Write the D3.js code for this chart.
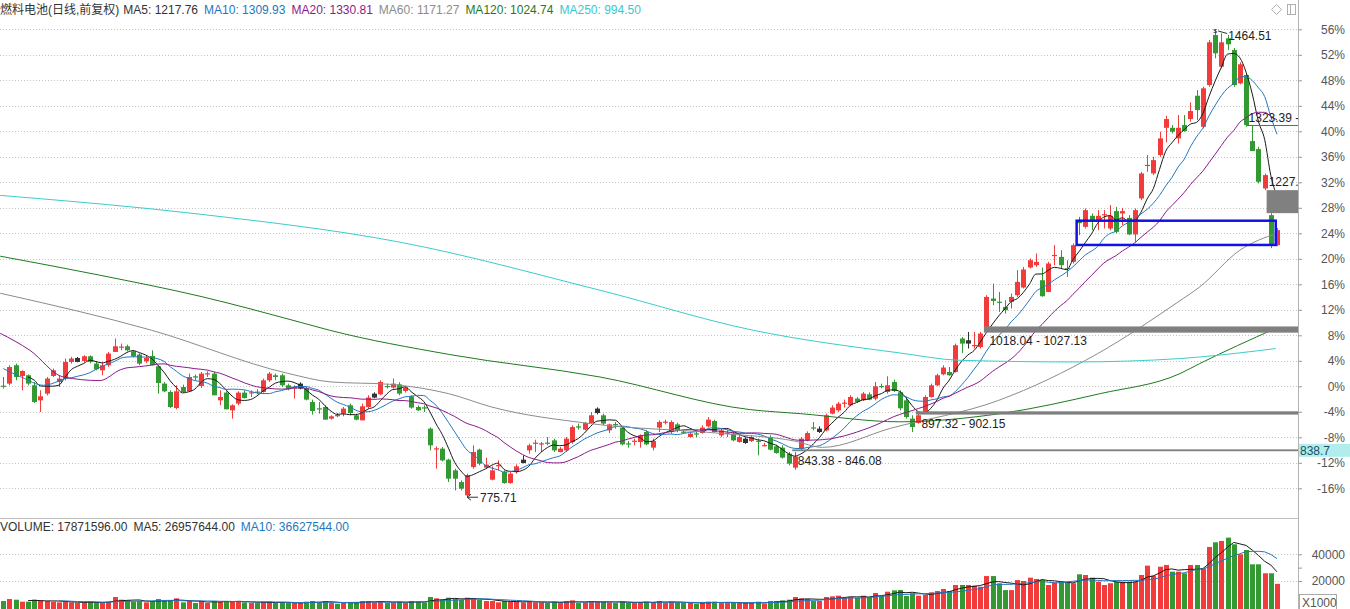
<!DOCTYPE html>
<html><head><meta charset="utf-8">
<script src="https://cdn.jsdelivr.net/npm/d3@7/dist/d3.min.js"></script>
<style>
html,body{margin:0;padding:0;background:#fff;}
svg{display:block;}
text{font-family:"Liberation Sans",Arial,"Noto Sans CJK SC",sans-serif;font-size:12px;}
</style></head><body>
<svg id="chart" width="1350" height="609"></svg>
<script>
// ---------------- DATA (values in % relative to axis base) ----------------
const opens = [0.1,0.42,3.30,1.62,1.73,0.16,-2.20,-1.15,1.62,0.68,
1.21,3.82,4.44,3.97,4.71,3.56,2.51,3.30,5.39,6.08,
6.28,5.50,4.98,3.93,4.76,3.14,0.42,-0.89,-3.41,-0.11,
-0.79,1.57,0.05,1.88,1.99,-2.20,-0.99,-3.77,-2.72,-0.99,
-1.10,-0.83,-0.89,0.94,1.73,1.73,0.16,-0.36,0.42,-0.36,
-2.46,-3.45,-3.25,-5.07,-4.51,-4.29,-2.98,-4.55,-5.34,-3.25,
-1.15,-1.26,0.05,-0.20,0.31,-0.74,-1.57,-3.25,-3.30,-6.64,
-9.89,-9.78,-11.51,-13.19,-15.02,-17.11,-12.67,-9.94,-12.76,-14.65,
-12.51,-13.45,-15.18,-13.45,-11.51,-10.05,-9.00,-9.11,-8.84,-8.48,
-10.31,-10.05,-8.74,-6.28,-6.80,-5.76,-3.50,-4.55,-6.91,-5.92,
-6.48,-8.95,-8.68,-8.74,-7.17,-9.62,-6.48,-5.65,-7.17,-5.97,
-7.11,-7.96,-7.38,-7.33,-6.28,-5.45,-7.69,-7.43,-7.43,-8.74,
-8.21,-8.59,-8.53,-9.31,-7.96,-9.42,-9.62,-10.57,-12.76,-9.78,
-8.48,-6.44,-6.64,-6.91,-4.29,-3.77,-2.67,-2.98,-1.93,-2.20,
-1.26,-1.93,0.05,-0.89,0.68,-0.94,-2.20,-5.07,-5.76,-4.03,
-1.68,0.16,1.88,2.25,2.25,7.49,7.22,6.39,6.17,9.31,
13.77,13.27,12.45,13.24,14.29,15.50,18.64,19.00,16.64,14.80,
20.52,20.30,18.53,19.52,25.91,25.01,26.74,26.06,26.89,24.76,
27.48,27.11,26.42,23.82,29.47,34.59,33.39,36.27,40.55,40.55,
38.89,40.98,41.92,45.58,40.71,47.26,55.11,50.13,54.59,52.75,
47.52,48.83,38.47,37.21,31.04,26.85,22.14];

const closes = [0.0,3.03,1.46,2.40,0.42,-2.46,-1.57,1.21,2.51,1.21,
3.82,4.35,3.82,4.71,3.82,2.67,3.30,5.13,6.28,6.23,
5.65,4.71,3.56,4.44,3.30,0.52,-0.79,-3.25,-0.79,-0.89,
1.46,1.37,1.99,2.04,-1.41,-1.68,-3.61,-2.98,-0.99,-1.84,
-0.94,-0.94,0.94,1.99,1.46,0.16,-0.47,-0.11,-0.36,-2.09,
-3.88,-3.61,-5.23,-4.71,-4.60,-3.50,-4.19,-5.23,-3.14,-1.77,
-1.77,0.68,-0.11,0.42,-1.15,-0.20,-3.34,-3.77,-3.45,-9.26,
-9.73,-11.62,-14.49,-14.49,-16.06,-13.97,-10.31,-12.14,-12.29,-13.19,
-12.36,-15.18,-13.71,-12.56,-12.04,-9.26,-8.84,-8.95,-8.95,-10.05,
-9.78,-8.21,-6.39,-6.48,-5.76,-4.55,-4.19,-5.86,-5.97,-6.01,
-9.11,-9.06,-8.53,-7.69,-9.11,-8.59,-5.60,-5.54,-5.60,-7.02,
-7.22,-7.43,-7.49,-6.48,-5.23,-7.17,-6.91,-7.27,-8.48,-7.96,
-8.90,-7.96,-8.64,-9.22,-9.94,-10.47,-11.19,-12.14,-10.99,-8.21,
-7.33,-6.55,-7.17,-4.55,-3.34,-2.72,-2.56,-1.68,-2.46,-1.15,
-2.09,0.00,-0.11,0.16,-0.74,-3.45,-4.82,-6.39,-4.55,-1.68,
0.16,1.73,2.94,1.73,6.44,6.70,6.70,6.48,8.27,14.02,
13.39,13.11,11.93,14.02,16.38,18.32,19.78,19.52,14.13,19.26,
20.61,19.00,18.42,22.14,25.59,27.63,25.80,26.74,27.00,26.74,
24.23,27.48,23.82,27.63,33.39,34.74,35.48,38.89,41.92,39.93,
40.55,40.04,43.18,43.33,46.74,53.96,52.23,53.96,53.65,47.26,
50.51,40.98,36.90,32.08,33.13,22.29,24.49];

const highs = [1.46,3.30,3.56,2.51,1.88,0.68,-0.63,1.46,2.78,1.73,
4.35,4.60,4.60,4.87,4.87,3.93,3.82,5.39,7.49,6.70,
6.55,5.65,5.18,4.76,5.65,3.30,0.68,-0.63,0.16,0.27,
1.99,1.84,2.25,2.36,2.25,-0.63,-0.79,-2.83,-0.79,-0.63,
-0.63,-0.47,1.21,2.25,1.99,1.99,0.42,0.16,0.63,-0.11,
-2.09,-2.46,-2.98,-4.55,-4.19,-3.25,-2.72,-4.29,-2.72,-1.41,
-0.94,0.94,0.42,1.21,0.63,0.00,-1.41,-2.98,-2.98,-6.44,
-9.42,-9.52,-11.35,-12.92,-14.76,-13.71,-9.26,-9.78,-11.19,-12.56,
-11.62,-13.19,-13.45,-12.25,-10.83,-9.00,-8.37,-8.74,-7.96,-8.21,
-9.53,-7.96,-6.12,-5.86,-5.60,-4.03,-3.30,-4.29,-5.86,-5.60,
-6.28,-8.59,-8.21,-7.54,-6.91,-8.21,-5.34,-5.23,-5.34,-5.70,
-6.80,-7.22,-7.07,-6.12,-4.82,-5.23,-6.64,-6.91,-7.17,-7.69,
-8.01,-7.69,-8.21,-8.90,-7.69,-9.15,-9.26,-10.31,-10.31,-7.96,
-7.07,-5.60,-6.28,-4.29,-2.98,-2.46,-2.09,-1.41,-1.68,-0.89,
-0.94,0.68,0.42,1.57,1.05,-0.63,-1.68,-4.55,-4.03,-1.41,
0.42,1.99,3.30,3.03,6.70,7.74,8.53,8.53,8.53,14.29,
16.12,14.80,13.50,14.55,18.21,18.73,20.05,20.83,18.64,19.52,
22.14,21.35,19.78,22.40,26.58,27.90,27.11,27.63,27.63,28.42,
28.15,27.99,26.85,27.90,33.64,36.27,36.00,39.93,42.44,40.98,
42.55,42.55,44.54,46.47,46.99,54.32,55.97,55.37,55.11,53.07,
50.82,49.09,40.98,37.57,33.39,27.16,24.81];

const lows = [-0.36,0.16,0.94,-0.63,0.16,-2.60,-4.03,-1.41,1.46,-0.11,
0.94,3.56,3.77,3.77,3.61,2.51,1.73,3.03,5.39,5.65,
5.50,4.55,3.30,3.66,3.30,-1.15,-0.94,-3.41,-3.61,-0.99,
-0.89,0.94,-0.27,1.46,-1.41,-2.98,-3.61,-5.07,-2.98,-1.93,
-1.68,-1.26,-0.99,0.68,0.94,-0.11,-0.63,-1.93,-0.47,-2.20,
-4.44,-4.29,-5.23,-5.23,-4.82,-4.71,-4.55,-5.34,-5.34,-3.50,
-1.88,-1.41,-0.36,-0.36,-1.41,-0.99,-3.50,-3.88,-4.03,-10.05,
-12.92,-11.78,-15.02,-16.33,-16.33,-17.40,-12.92,-12.40,-12.92,-14.76,
-13.19,-15.28,-15.28,-13.71,-12.09,-10.57,-10.31,-10.31,-9.26,-10.31,
-10.36,-10.31,-9.00,-6.80,-6.91,-5.86,-4.40,-6.12,-7.33,-6.64,
-9.26,-9.62,-9.26,-9.62,-9.26,-10.05,-7.17,-5.97,-7.43,-7.22,
-7.43,-8.05,-7.96,-7.43,-6.48,-7.22,-7.96,-7.96,-8.64,-8.84,
-9.03,-8.74,-10.83,-9.42,-10.05,-10.57,-11.35,-12.40,-13.08,-10.05,
-8.64,-6.91,-7.33,-7.07,-4.40,-4.03,-3.34,-3.14,-2.62,-2.31,
-2.20,-2.20,-0.31,-1.15,-0.89,-3.77,-5.07,-7.17,-5.86,-4.19,
-1.77,0.00,1.73,1.65,2.15,5.23,5.92,5.92,5.92,9.06,
12.72,11.66,11.41,12.20,14.02,15.34,18.48,18.73,14.05,14.76,
19.00,18.48,17.16,19.26,23.71,24.76,24.49,24.49,24.76,24.49,
23.97,25.28,23.71,22.66,29.20,33.64,33.13,36.00,38.26,39.67,
38.10,39.93,41.50,41.76,40.46,46.99,51.45,49.88,52.75,46.99,
47.37,40.71,36.90,31.82,30.77,21.67,21.98];

// candles drawn in dark colour (0-based index)
const darkIdx = [12,48,60,84,96,120,132,156];

// volume (x1000)
const volumes = [5000,6500,6000,4500,4500,6000,5500,5000,4500,4000,
4500,4000,3500,4000,4500,4000,3500,4500,8000,6000,
5500,4500,5000,4000,5000,6500,5000,5500,7000,4000,
5000,3500,5000,3500,5000,4500,5000,4500,5000,4000,
3500,3500,4500,4500,3500,4000,3500,3500,3500,4500,
5000,4000,5000,3500,3000,3500,4000,4000,5000,5000,
4000,5000,3500,4000,4500,3500,5000,4500,4000,8000,
7000,6000,7500,6500,6000,7500,7000,6000,5000,5000,
4000,5000,4500,4500,4000,5000,4000,4000,3500,4500,
3500,5000,5500,3500,4000,5000,4500,4500,4000,3500,
5000,3500,3500,4000,4500,4000,5000,3500,4500,4000,
3500,3500,3000,4000,4500,4500,3500,3500,4000,3500,
3500,3500,4500,3000,5000,5000,5500,6000,8000,7000,
6500,5000,5000,8000,8500,9000,7500,8000,7500,9000,
8000,11000,9000,12000,13000,13260,8760,10800,9000,9500,
11500,12500,14000,12500,17000,17000,17000,16500,15700,23700,
23700,18200,13200,13200,20700,20000,22500,21500,20700,17000,
19000,19500,19000,18300,25000,24500,22500,19500,17000,18300,
19500,19500,19500,19500,24500,31500,24000,30700,32000,27000,
27000,25800,32000,32000,29500,45500,49000,50000,52500,47500,
40000,43200,32500,32500,25800,25800,17872];

// moving-average lines: [candle index, %]
const ma10Lead = [[0,2.78],[3,1.41],[6.5,0.16]];
const ma20Lead = [[-0.5,8.32],[4.3,5.65],[9.7,1.46],[15.6,0.9]];
const ma60Pts = [[-0.5,14.60],[24,8.79],[46,2.04],[53,0.68],[62.5,0.31],[72,-1.15],[79,-3.25],[95,-5.86],[116,-7.38],[128,-8.59],[132.5,-9.58],[143.5,-6.59],[161,-2.20],[177,5.13],[190,13.23],[193.5,15.59],[200,21.35],[206,24.0]];
const ma120Pts = [[-0.5,20.41],[15.6,17.43],[31.8,14.13],[48,10.05],[52.8,8.79],[72.2,4.98],[96.5,1.46],[120.8,-3.66],[128.9,-4.29],[145,-5.57],[161.2,-4.29],[177.4,-1.15],[190.3,1.99],[193.5,3.56],[205.7,9.06]];
const ma250Pts = [[-0.5,29.95],[31.8,27.0],[64.2,22.6],[96.5,15.07],[121.3,8.79],[145,5.23],[154.7,4.08],[173.3,3.82],[190.3,4.35],[193.5,4.60],[205.8,5.92]];

// axis ticks
const pctTicks = [-16,-12,-8,-4,0,4,8,12,16,20,24,28,32,36,40,44,48,52,56];
const volTicks = [20000,40000];

// legend texts
const titleText = "燃料电池(日线,前复权)";
const maLabels = ["MA5","MA10","MA20","MA60","MA120","MA250"];
const maValues = ["1217.76","1309.93","1330.81","1171.27","1024.74","994.50"];
const volLabels = ["VOLUME","MA5","MA10"];
const volValues = ["17871596.00","26957644.00","36627544.00"];

// price annotations
const basePrice = 939;           // price at 0%
const zones = [ {lo:1018.04, hi:1027.13, start:159}, {lo:897.32, hi:902.15, start:148}, {lo:843.38, hi:846.08, start:128} ];
const lowMark = {idx:75, text:"775.71"};
const highMark = {idx:196, text:"1464.51"};
const gapLine = {price:1323.39, start:201, text:"1323.39 -"};
const gapBox = {from:204, to:205, text:"1227."};
const boxRange = {i0:174, i1:205.8, lo:1147.2, hi:1182.9};
const lastLabel = {price:844.7, text:"838.7"};

// ---------------- DRAW ----------------
const svg = d3.select("#chart");
const N = closes.length;
const plotR = 1298;
const xi = d3.scaleLinear().domain([0, N-1]).range([3.3, 1277]);
const y = d3.scaleLinear().domain([-16, 56]).range([488.3, 29.3]);
const vy = d3.scaleLinear().domain([0, 40000]).range([607.7, 554.3]);
const pct = p => (p / basePrice - 1) * 100;

const RED = "#f23b3b", GREEN = "#339a33", DARK = "#333333";
const darkSet = new Set(darkIdx);

// clip
const defs = svg.append("defs");
defs.append("clipPath").attr("id","mainClip").append("rect").attr("x",0).attr("y",18).attr("width",plotR).attr("height",500);
defs.append("clipPath").attr("id","volClip").append("rect").attr("x",0).attr("y",519).attr("width",plotR-1).attr("height",90);

// grid lines
svg.append("g").selectAll("line").data(pctTicks).join("line")
  .attr("x1",0).attr("x2",plotR).attr("y1",d=>Math.round(y(d))+0.5).attr("y2",d=>Math.round(y(d))+0.5)
  .attr("stroke","#c4c4c4").attr("stroke-dasharray","1,2");
svg.append("g").selectAll("line").data(volTicks).join("line")
  .attr("x1",0).attr("x2",plotR).attr("y1",d=>Math.round(vy(d))+0.5).attr("y2",d=>Math.round(vy(d))+0.5)
  .attr("stroke","#c4c4c4").attr("stroke-dasharray","1,2");

// frame lines
svg.append("line").attr("x1",plotR+0.5).attr("x2",plotR+0.5).attr("y1",0).attr("y2",609).attr("stroke","#b4b4b4");
svg.append("line").attr("x1",0).attr("x2",plotR).attr("y1",518.5).attr("y2",518.5).attr("stroke","#c0c0c0");

// candles
const main = svg.append("g").attr("clip-path","url(#mainClip)");
const idx = d3.range(N);
const colorOf = i => darkSet.has(i) ? DARK : (closes[i] >= opens[i] ? RED : GREEN);
const cg = main.append("g");
cg.selectAll("line").data(idx).join("line")
  .attr("x1",i=>Math.round(xi(i))+0.5).attr("x2",i=>Math.round(xi(i))+0.5)
  .attr("y1",i=>y(highs[i])).attr("y2",i=>y(lows[i]))
  .attr("stroke",colorOf).attr("stroke-width",1);
cg.selectAll("rect").data(idx).join("rect")
  .attr("x",i=>Math.round(xi(i))-2)
  .attr("width",5)
  .attr("y",i=>y(Math.max(opens[i],closes[i])))
  .attr("height",i=>Math.max(1.2, Math.abs(y(opens[i])-y(closes[i]))))
  .attr("fill",colorOf);

// moving averages
function movingAvg(arr, n){ return arr.map((v,i)=> i<n-1 ? null : d3.mean(arr.slice(i-n+1,i+1))); }
const toPts = arr => arr.map((v,i)=>[i,v]).filter(d=>d[1]!==null);
const lineGen = d3.line().x(d=>xi(d[0])).y(d=>y(d[1])).curve(d3.curveMonotoneX);
const maSeries = [
  {pts: toPts(movingAvg(closes,5)), color:"#1a1a1a"},
  {pts: ma10Lead.concat(toPts(movingAvg(closes,10))), color:"#2277c0"},
  {pts: ma20Lead.concat(toPts(movingAvg(closes,20))), color:"#8a1a8a"},
  {pts: ma60Pts, color:"#8c8c8c"},
  {pts: ma120Pts, color:"#1f7a1f"},
  {pts: ma250Pts, color:"#3ccccc"}
];
main.append("g").selectAll("path").data(maSeries).join("path")
  .attr("d",d=>lineGen(d.pts)).attr("fill","none").attr("stroke",d=>d.color).attr("stroke-width",1);

// annotation zones
const ann = main.append("g");
ann.selectAll("rect.zone").data(zones).join("rect").attr("class","zone")
  .attr("x",d=>xi(d.start)-2.5).attr("width",d=>plotR-(xi(d.start)-2.5))
  .attr("y",d=>y(pct(d.hi))).attr("height",d=>Math.max(1.2,y(pct(d.lo))-y(pct(d.hi))))
  .attr("fill","#7f7f7f");
ann.selectAll("text.zone").data(zones).join("text").attr("class","zone")
  .attr("x",d=>xi(d.start)+3).attr("y",d=>(y(pct(d.hi))+y(pct(d.lo)))/2+15)
  .attr("fill","#222").text(d=>d.lo.toFixed(2)+" - "+d.hi.toFixed(2));

// gap line 1323.39
ann.append("line").attr("x1",xi(gapLine.start)).attr("x2",plotR)
  .attr("y1",Math.round(y(pct(gapLine.price)))+0.5).attr("y2",Math.round(y(pct(gapLine.price)))+0.5)
  .attr("stroke","#666");
ann.append("text").attr("x",xi(gapLine.start)+2.5).attr("y",y(pct(gapLine.price))-3.5).attr("fill","#222")
  .text(gapLine.text);

// gap box
ann.append("rect").attr("x",xi(gapBox.from)+2).attr("width",plotR-xi(gapBox.from)-2)
  .attr("y",y(lows[gapBox.from])).attr("height",y(highs[gapBox.to])-y(lows[gapBox.from]))
  .attr("fill","#808080");
ann.append("text").attr("x",xi(gapBox.from)+4).attr("y",y(lows[gapBox.from])-4).attr("fill","#222").text(gapBox.text);

// blue box
ann.append("rect").attr("x",xi(boxRange.i0)-2.5).attr("width",xi(boxRange.i1)-xi(boxRange.i0)+2.5)
  .attr("y",y(pct(boxRange.hi))).attr("height",y(pct(boxRange.lo))-y(pct(boxRange.hi)))
  .attr("fill","none").attr("stroke","#1212e8").attr("stroke-width",2.5);

// high mark
const hx = xi(highMark.idx), hy = y(highs[highMark.idx]);
ann.append("text").attr("x",hx-2).attr("y",hy+4).style("font-size","8px").attr("fill","#222").text("s");
ann.append("line").attr("x1",hx+3).attr("y1",hy+1.5).attr("x2",hx+12).attr("y2",hy+4).attr("stroke","#333");
ann.append("text").attr("x",hx+13).attr("y",hy+10.5).attr("fill","#222").text(highMark.text);

// low mark
const lx = xi(lowMark.idx), ly = y(lows[lowMark.idx]);
ann.append("line").attr("x1",lx).attr("y1",ly).attr("x2",lx+11).attr("y2",ly).attr("stroke","#333");
ann.append("path").attr("d",`M${lx},${ly} l4,-3 M${lx},${ly} l4,3`).attr("stroke","#333").attr("fill","none");
ann.append("text").attr("x",lx+13).attr("y",ly+4.5).attr("fill","#222").text(lowMark.text);

// right axis (%)
const ax = svg.append("g").attr("transform",`translate(${plotR},0)`)
  .call(d3.axisRight(y).tickValues(pctTicks).tickFormat(d=>d+"%").tickSize(4));
ax.select(".domain").remove();
ax.selectAll(".tick line").attr("stroke","#999");
ax.selectAll(".tick text").attr("x",47).attr("text-anchor","end").attr("fill","#555")
  .style("font-family",'"Liberation Sans",Arial,sans-serif').style("font-size","12px");

// last price label box
const lpY = y(pct(lastLabel.price));
svg.append("rect").attr("x",plotR+1).attr("y",lpY-6.5).attr("width",52).attr("height",13).attr("fill","#b2eded");
svg.append("text").attr("x",plotR+2).attr("y",lpY+4.5).attr("fill","#1d4d5d").text(lastLabel.text);

// volume bars
const vg = svg.append("g").attr("clip-path","url(#volClip)");
vg.selectAll("rect").data(idx).join("rect")
  .attr("x",i=>Math.round(xi(i))-2).attr("width",5)
  .attr("y",i=>vy(volumes[i])).attr("height",i=>609-vy(volumes[i]))
  .attr("fill",i=> (closes[i] >= opens[i] || darkSet.has(i)) ? RED : GREEN);
const vLine = d3.line().x(d=>xi(d[0])).y(d=>vy(d[1]));
vg.append("path").attr("d",vLine(toPts(movingAvg(volumes,5)))).attr("fill","none").attr("stroke","#1a1a1a").attr("stroke-width",1);
vg.append("path").attr("d",vLine(toPts(movingAvg(volumes,10)))).attr("fill","none").attr("stroke","#2277c0").attr("stroke-width",1);

// volume axis
const vax = svg.append("g").attr("transform",`translate(${plotR},0)`)
  .call(d3.axisRight(vy).tickValues([10000,20000,30000,40000]).tickFormat(d=>volTicks.includes(d)?d:"").tickSize(4));
vax.select(".domain").remove();
vax.selectAll(".tick line").attr("stroke","#999");
vax.selectAll(".tick text").attr("x",47).attr("text-anchor","end").attr("fill","#555")
  .style("font-family",'"Liberation Sans",Arial,sans-serif').style("font-size","12px");
svg.append("rect").attr("x",plotR+1.5).attr("y",594.5).attr("width",37).attr("height",15).attr("fill","#fff").attr("stroke","#aaa");
svg.append("text").attr("x",plotR+4).attr("y",606.5).attr("fill","#555").text("X1000");

// top legend
const leg = svg.append("g");
let cx = 0;
const t0 = leg.append("text").attr("x",0).attr("y",14).attr("fill","#333").text(titleText);
cx = t0.node().getComputedTextLength() + 4;
const maColors = ["#333333","#2277c0","#8a1a8a","#8c8c8c","#1f7a1f","#3cc8c8"];
maLabels.forEach((l,k)=>{
  const t = leg.append("text").attr("x",cx).attr("y",14).attr("fill",maColors[k]).text(l+": "+maValues[k]);
  cx += t.node().getComputedTextLength() + 6;
});
// icons
leg.append("path").attr("d","M1276.5,4.5 L1281.5,9.5 L1276.5,14.5 L1271.5,9.5 Z").attr("fill","none").attr("stroke","#b0b0b0");
leg.append("rect").attr("x",1287.5).attr("y",4.5).attr("width",8).attr("height",10).attr("fill","none").attr("stroke","#b0b0b0");
leg.append("line").attr("x1",1290.5).attr("x2",1290.5).attr("y1",4.5).attr("y2",14.5).attr("stroke","#b0b0b0");

// volume legend
let vx = 0;
const vColors = ["#333333","#333333","#2277c0"];
volLabels.forEach((l,k)=>{
  const t = leg.append("text").attr("x",vx).attr("y",531).attr("fill",vColors[k]).text(l+": "+volValues[k]);
  vx += t.node().getComputedTextLength() + 6;
});
</script>
</body></html>
